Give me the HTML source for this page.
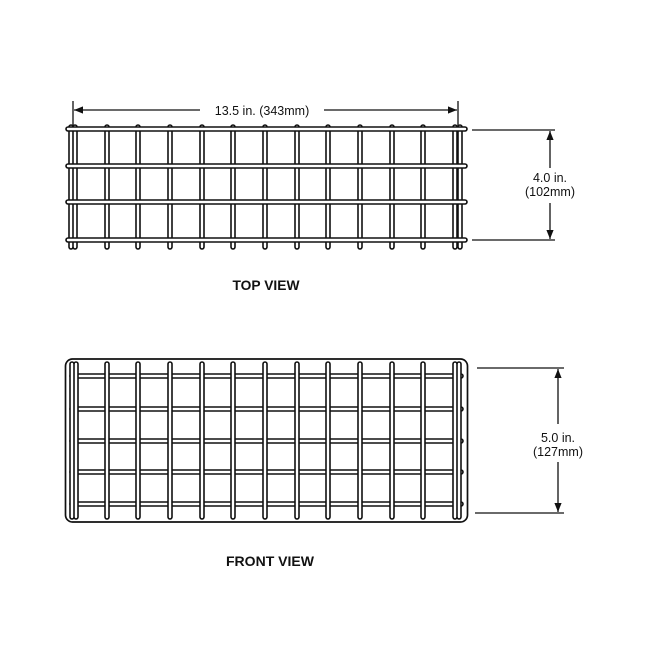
<!DOCTYPE html>
<html><head><style>html,body{margin:0;padding:0;background:#fff}svg{display:block}
text{font-family:"Liberation Sans",sans-serif;fill:#111}</style></head><body>
<svg width="650" height="650" viewBox="0 0 650 650" xmlns="http://www.w3.org/2000/svg">
<defs>
<marker id="a" viewBox="0 0 10 10" refX="10" refY="5" markerWidth="7" markerHeight="7" orient="auto-start-reverse"><path d="M0,1 L10,5 L0,9 z" fill="#111"/></marker>
</defs>
<g stroke-linecap="round" fill="none">
<g stroke="#111" stroke-width="5.6">
<path d="M71 127V247M75 127V247M107 127V247M138 127V247M170 127V247M202 127V247M233 127V247M265 127V247M297 127V247M328 127V247M360 127V247M392 127V247M423 127V247M455 127V247M460 127V247"/>
</g>
<g stroke="#fff" stroke-width="2.4">
<path d="M71 127V247M75 127V247M107 127V247M138 127V247M170 127V247M202 127V247M233 127V247M265 127V247M297 127V247M328 127V247M360 127V247M392 127V247M423 127V247M455 127V247M460 127V247"/>
</g>
<path d="M68 129H465M68 166H465M68 202H465M68 240H465" stroke="#111" stroke-width="5.6"/>
<path d="M68 129H465M68 166H465M68 202H465M68 240H465" stroke="#fff" stroke-width="2.4"/>
</g>
<g stroke="#111" stroke-width="1.3" fill="none">
<path d="M73 101V126M458 101V126"/>
<path d="M74 110H200" marker-start="url(#a)"/>
<path d="M324 110H457" marker-end="url(#a)"/>
<path d="M472 130H555M472 240H555"/>
<path d="M550 131V168" marker-start="url(#a)"/>
<path d="M550 203V239" marker-end="url(#a)"/>
</g>
<text x="262" y="115" font-size="12.5" text-anchor="middle">13.5 in. (343mm)</text>
<text x="550" y="182" font-size="12.5" text-anchor="middle">4.0 in.</text>
<text x="550" y="196" font-size="12.5" text-anchor="middle">(102mm)</text>
<text x="266" y="290" font-size="14" font-weight="bold" text-anchor="middle" textLength="67" lengthAdjust="spacingAndGlyphs">TOP VIEW</text>
<rect x="65.5" y="359" width="402" height="163" rx="7" fill="none" stroke="#111" stroke-width="1.7"/>
<g stroke-linecap="round" fill="none">
<path d="M72 376H461M72 409H461M72 441H461M72 472H461M72 504H461" stroke="#111" stroke-width="5.6"/>
<path d="M72 376H461M72 409H461M72 441H461M72 472H461M72 504H461" stroke="#fff" stroke-width="2.4"/>
<g stroke="#111" stroke-width="5.6">
<path d="M72 364V517M76 364V517M107 364V517M138 364V517M170 364V517M202 364V517M233 364V517M265 364V517M297 364V517M328 364V517M360 364V517M392 364V517M423 364V517M455 364V517M459 364V517"/>
</g>
<g stroke="#fff" stroke-width="2.4">
<path d="M72 364V517M76 364V517M107 364V517M138 364V517M170 364V517M202 364V517M233 364V517M265 364V517M297 364V517M328 364V517M360 364V517M392 364V517M423 364V517M455 364V517M459 364V517"/>
</g>
</g>
<g stroke="#111" stroke-width="1.3" fill="none">
<path d="M477 368H564M475 513H564"/>
<path d="M558 369V424" marker-start="url(#a)"/>
<path d="M558 462V512" marker-end="url(#a)"/>
</g>
<text x="558" y="442" font-size="12.5" text-anchor="middle">5.0 in.</text>
<text x="558" y="456" font-size="12.5" text-anchor="middle">(127mm)</text>
<text x="270" y="566" font-size="14" font-weight="bold" text-anchor="middle" textLength="88" lengthAdjust="spacingAndGlyphs">FRONT VIEW</text>
</svg>
</body></html>
